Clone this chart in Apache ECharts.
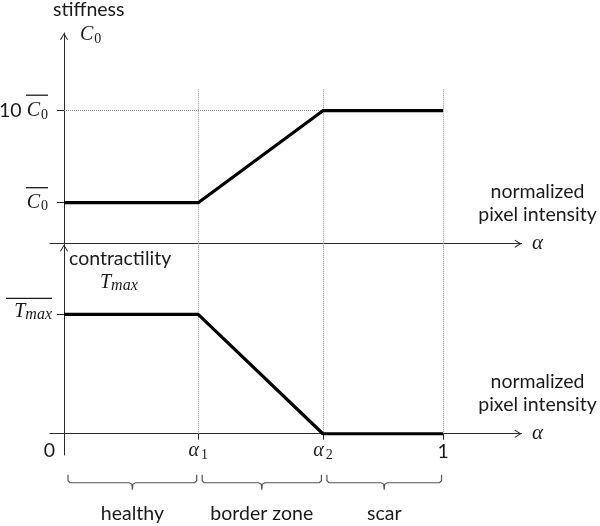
<!DOCTYPE html>
<html>
<head>
<meta charset="utf-8">
<script src="https://cdn.jsdelivr.net/npm/echarts@6/dist/echarts.min.js"></script>
<style>html,body{margin:0;padding:0;background:#fff}#c{width:600px;height:526px}</style>
</head>
<body>
<div id="c"></div>
<script>
// ---- data (schematic values) ----
const alpha1 = 0.354;
const alpha2 = 0.683;
const xTicks = [0, alpha1, alpha2, 1];
const xTickLabels = ['0', 'α1', 'α2', '1'];

const stiffnessX = [0, alpha1, alpha2, 1];
const stiffnessY = [1, 1, 3.244, 3.244];
const stiffTicks = [1, 3.244];
const stiffTickLabels = ['C0', '10 C0'];

const contractX = [0, alpha1, alpha2, 1];
const contractY = [1, 1, 0, 0];
const contractTicks = [1];
const contractTickLabels = ['Tmax'];

const zoneNames = ['healthy', 'border zone', 'scar'];
const zoneBounds = [0, alpha1, alpha2, 1];

const guideTopY = 3.773;     // top end of the dotted guides (upper panel units)
const guideBottomY = 1.585;  // top end of the dotted guides (lower panel units)

// ---- styles ----
const SANS = 'Lato';
const SERIF = 'Liberation Serif';
const INK = '#1a1a1a';
const FS = 19.5;
const rich = {
  n:  { fontFamily: SANS, fontSize: FS, fontWeight: 'normal', color: INK, lineHeight: 23 },
  m:  { fontFamily: SERIF, fontStyle: 'italic', fontWeight: 'normal', fontSize: 20, color: INK, lineHeight: 22 },
  s:  { fontFamily: SERIF, fontWeight: 'normal', fontSize: 14, color: INK, lineHeight: 10, verticalAlign: 'bottom', padding: [0, 0, 0, 1] },
  sa: { fontFamily: SERIF, fontWeight: 'normal', fontSize: 14, color: INK, lineHeight: 10, verticalAlign: 'bottom', padding: [0, 0, 0, 2] },
  si: { fontFamily: SERIF, fontStyle: 'italic', fontWeight: 'normal', fontSize: 16, color: INK, lineHeight: 10, verticalAlign: 'bottom' },
  ol: { width: 22, height: 1.3, lineHeight: 8, backgroundColor: INK },
  ol2:{ width: 46, height: 1.3, lineHeight: 4, backgroundColor: INK },
  z:  { fontFamily: SANS, fontSize: FS, fontWeight: 'normal', color: INK, lineHeight: 22, padding: [0, 29, 0, 0] },
  a:  { fontFamily: SERIF, fontStyle: 'italic', fontWeight: 'normal', fontSize: 21, color: INK, lineHeight: 34 }
};
const chevron = 'path://M5,0 L10,8 L8.9,8.7 L5,2.3 L1.1,8.7 L0,8 Z';
const AX = '#2a2a2a';

function mathLabel(t) {
  if (t === 'C0') return '{m|C}{s|0}';
  if (t === 'Tmax') return '{m|T}{si|max}';
  if (t === 'α1') return '{m|α}{sa|1}';
  if (t === 'α2') return '{m|α}{sa|2}';
  return t;
}
function idxOf(arr, v) {
  let best = 0;
  arr.forEach((a, i) => { if (Math.abs(a - v) < Math.abs(arr[best] - v)) best = i; });
  return best;
}

const xAxisBase = (gi) => ({
  type: 'value', gridIndex: gi, min: -0.037, max: 1.207,
  splitLine: { show: false },
  axisLine: { show: true, onZero: true, symbol: ['none', chevron], symbolSize: [9, 7], symbolOffset: [0, -3.5],
              lineStyle: { color: AX, width: 1 } },
  nameLocation: 'end', nameGap: 16,
  name: '{n|normalized}\n{n|pixel intensity}\n{a|α}',
  nameTextStyle: { align: 'center', verticalAlign: 'middle', padding: [0, 0, 47, 0], rich: rich }
});

const option = {
  animation: false,
  backgroundColor: '#fff',
  title: [
    { text: 'stiffness', left: 53, top: 0, padding: 0,
      textStyle: { fontFamily: SANS, fontSize: FS, fontWeight: 'normal', color: INK, lineHeight: 20 } },
    { text: mathLabel('C0'), left: 80, top: 24, padding: 0, textStyle: { fontWeight: 'normal', rich: rich } },
    { text: 'contractility', left: 69, top: 249, padding: 0,
      textStyle: { fontFamily: SANS, fontSize: FS, fontWeight: 'normal', color: INK, lineHeight: 20 } },
    { text: mathLabel('Tmax'), left: 100, top: 272, padding: 0, textStyle: { fontWeight: 'normal', rich: rich } }
  ],
  grid: [
    { left: 50, right: 78.5, top: 33, bottom: 282.3, outerBoundsMode: 'none', containLabel: false },
    { left: 50, right: 78.5, top: 244.5, bottom: 71, outerBoundsMode: 'none', containLabel: false }
  ],
  xAxis: [
    Object.assign(xAxisBase(0), {
      axisTick: { show: false }, axisLabel: { show: false }
    }),
    Object.assign(xAxisBase(1), {
      axisTick: { show: true, customValues: [alpha1, alpha2, 1], length: 6, lineStyle: { color: AX } },
      axisLabel: {
        show: true, customValues: xTicks, margin: -15, verticalAlign: 'top',
        formatter: (v) => {
          const t = xTickLabels[idxOf(xTicks, v)];
          if (t === '0') return '{z|0}';
          if (t === '1') return '{n|1}';
          return mathLabel(t);
        },
        rich: rich
      }
    })
  ],
  yAxis: [
    {
      type: 'value', gridIndex: 0, min: 0, max: 5.139,
      splitLine: { show: false },
      axisLine: { show: true, onZero: true, symbol: ['none', chevron], symbolSize: [9, 7], symbolOffset: [0, -3.5],
                  lineStyle: { color: AX, width: 1 } },
      axisTick: { show: true, customValues: stiffTicks, length: 7, lineStyle: { color: AX, width: 1 } },
      axisLabel: {
        show: true, customValues: stiffTicks, margin: 2, align: 'right', padding: [0, 0, 8, 0],
        formatter: (v) => {
          const t = stiffTickLabels[idxOf(stiffTicks, v)];
          return t === 'C0' ? '{ol|}\n' + mathLabel('C0') : '{ol|}\n{n|10 }' + mathLabel('C0');
        },
        rich: rich
      }
    },
    {
      type: 'value', gridIndex: 1, min: -0.178, max: 1.585,
      splitLine: { show: false },
      axisLine: { show: true, onZero: true, symbol: ['none', chevron], symbolSize: [9, 7], symbolOffset: [0, -3.5],
                  lineStyle: { color: AX, width: 1 } },
      axisTick: { show: true, customValues: contractTicks, length: 7, lineStyle: { color: AX, width: 1 } },
      axisLabel: {
        show: true, customValues: contractTicks, margin: -2, align: 'right', padding: [0, 0, 10, 0],
        formatter: (v) => '{ol2|}\n' + mathLabel(contractTickLabels[idxOf(contractTicks, v)]),
        rich: rich
      }
    }
  ],
  series: [
    {
      type: 'line', xAxisIndex: 0, yAxisIndex: 0, z: 5,
      data: stiffnessX.map((x, i) => [x, stiffnessY[i]]),
      symbol: 'none', lineStyle: { color: '#000', width: 3.2 },
      markLine: {
        silent: true, symbol: ['none', 'none'], label: { show: false },
        lineStyle: { color: '#8a8a8a', width: 1, type: 'dotted' },
        data: [alpha1, alpha2, 1].map(x => [{ coord: [x, 0] }, { coord: [x, guideTopY] }])
          .concat([[{ coord: [0, stiffnessY[3]] }, { coord: [1, stiffnessY[3]] }]])
      }
    },
    {
      type: 'line', xAxisIndex: 1, yAxisIndex: 1, z: 5,
      data: contractX.map((x, i) => [x, contractY[i]]),
      symbol: 'none', lineStyle: { color: '#000', width: 3.2 },
      markLine: {
        silent: true, symbol: ['none', 'none'], label: { show: false },
        lineStyle: { color: '#8a8a8a', width: 1, type: 'dotted' },
        data: [alpha1, alpha2, 1].map(x => [{ coord: [x, 0] }, { coord: [x, guideBottomY] }])
      }
    },
    {
      type: 'custom', xAxisIndex: 1, yAxisIndex: 1, clip: false, silent: true,
      encode: { x: [0, 1] },
      data: zoneNames.map((n, i) => [zoneBounds[i], zoneBounds[i + 1], n]),
      renderItem: function (params, api) {
        const p1 = api.coord([api.value(0), 0]);
        const p2 = api.coord([api.value(1), 0]);
        const y0 = p1[1];
        const l = p1[0] + 4, r = p2[0] - 1.5, m = (l + r) / 2;
        const top = y0 + 41, mid = y0 + 49, bot = y0 + 56;
        const name = zoneNames[params.dataIndex];
        return {
          type: 'group',
          children: [
            { type: 'polyline',
              shape: { points: [[l, top], [l, mid - 2], [l + 2, mid], [m - 3, mid], [m - 0.5, mid + 1.5], [m, bot],
                                [m + 0.5, mid + 1.5], [m + 3, mid], [r - 2, mid], [r, mid - 2], [r, top]] },
              style: { stroke: '#555', lineWidth: 1.2, fill: null } },
            { type: 'text', x: m, y: y0 + 80,
              style: { text: name, align: 'center', verticalAlign: 'middle',
                       fontFamily: SANS, fontSize: FS, fill: INK } }
          ]
        };
      }
    }
  ]
};

const chart = echarts.init(document.getElementById('c'), null, { renderer: 'canvas' });
chart.setOption(option);
</script>
</body>
</html>
